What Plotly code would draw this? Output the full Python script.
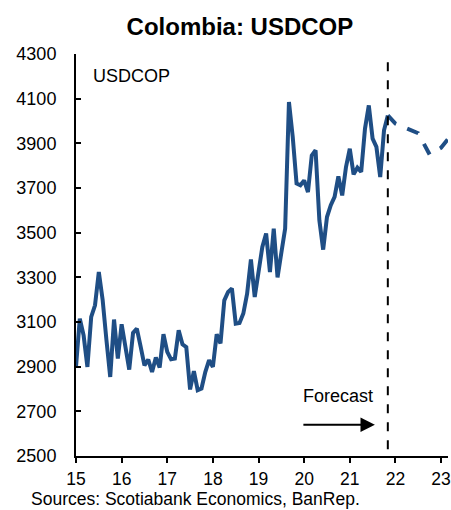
import plotly.graph_objects as go

# Monthly USDCOP history, Jan-2015 onward (year axis: 15 = 2015)
hist_start = 15.0
hist_values = [
    2899, 3115, 3040, 2899, 3123, 3175, 3324, 3200, 3020, 2854,
    3111, 2936, 3090, 2990, 2887, 3051, 3070, 2990, 2906, 2932,
    2876, 2941, 2896, 3045, 2966, 2933, 2936, 3063, 3000, 2988,
    2798, 2880, 2795, 2802, 2876, 2929, 2899, 3045, 3004, 3197,
    3235, 3250, 3093, 3096, 3138, 3227, 3380, 3212, 3332, 3436,
    3496, 3324, 3518, 3300, 3410, 3518, 4085, 3928, 3720, 3712,
    3734, 3682, 3846, 3869, 3555, 3424, 3570, 3623, 3660, 3752,
    3667, 3794, 3876, 3761, 3791, 3772, 3966, 4070, 3921, 3884,
    3749, 3958, 4025,
]
hist_x = [hist_start + i / 12 for i in range(len(hist_values))]

# Forecast path
fc_x = [hist_x[-1], 21.95, 22.0, 22.5, 22.75, 23.0, 23.25]
fc_values = [hist_values[-1], 3995, 3988, 3945, 3850, 3880, 3945]

forecast_start = hist_x[-1]

x_ticks = [15, 16, 17, 18, 19, 20, 21, 22, 23]
y_ticks = [2500, 2700, 2900, 3100, 3300, 3500, 3700, 3900, 4100, 4300]

navy = "#1F4E85"
font_family = "Liberation Sans, Arial, sans-serif"

# Plot-area geometry in pixels
W, H = 451, 510
ML, MR, MT, MB = 76, 0, 54, 54
PW, PH = W - ML - MR, H - MT - MB

fig = go.Figure()
fig.add_trace(go.Scatter(
    x=hist_x, y=hist_values, mode="lines",
    line=dict(color=navy, width=4), hoverinfo="skip", showlegend=False,
))
fig.add_trace(go.Scatter(
    x=fc_x, y=fc_values, mode="lines",
    line=dict(color=navy, width=4, dash="dash"), hoverinfo="skip", showlegend=False,
))

# Forecast divider
fig.add_shape(type="line", xref="x", yref="y",
              x0=forecast_start, x1=forecast_start, y0=2530, y1=4300,
              line=dict(color="black", width=2, dash="dash"))

# Forecast label and arrow
fig.add_annotation(x=20.75, y=2770, xref="x", yref="y", text="Forecast",
                   showarrow=False, font=dict(size=18, color="black"))
fig.add_annotation(x=21.55, y=2640, ax=19.95, ay=2640, xref="x", yref="y",
                   axref="x", ayref="y", text="", showarrow=True,
                   arrowhead=2, arrowsize=1.6, arrowwidth=1.8, arrowcolor="black")

# Series label
fig.add_annotation(x=15.33, y=4200, xref="x", yref="y", text="USDCOP",
                   xanchor="left", showarrow=False, font=dict(size=18, color="black"))

# Source note, pinned to the bottom edge
fig.add_annotation(x=(30 - ML) / PW, xanchor="left", y=-MB / PH, yanchor="bottom",
                   xref="paper", yref="paper", text="Sources: Scotiabank Economics, BanRep.",
                   showarrow=False, borderpad=0, font=dict(size=17.5, color="black"))

fig.update_layout(
    width=W, height=H,
    margin=dict(l=ML, r=MR, t=MT, b=MB),
    paper_bgcolor="white", plot_bgcolor="white",
    font=dict(family=font_family, size=18, color="black"),
    title=dict(text="<b>Colombia: USDCOP</b>", x=0.532, xanchor="center",
               y=0.947, yanchor="middle", font=dict(size=24)),
    xaxis=dict(range=[15, 15 + PW / 46], tickvals=x_ticks, ticktext=[str(t) for t in x_ticks],
               showgrid=False, zeroline=False, showline=True, linecolor="black", linewidth=2,
               ticks="outside", ticklen=5, tickwidth=2, tickcolor="black",
               tickfont=dict(size=17.5), ticklabeloverflow="allow", ticklabelstandoff=1),
    yaxis=dict(range=[2500, 4300], tickvals=y_ticks, showgrid=False, zeroline=False,
               showline=True, linecolor="black", linewidth=2,
               ticks="inside", ticklen=5, tickwidth=2, tickcolor="black",
               ticklabelstandoff=14),
)

fig.write_html("out.html")
